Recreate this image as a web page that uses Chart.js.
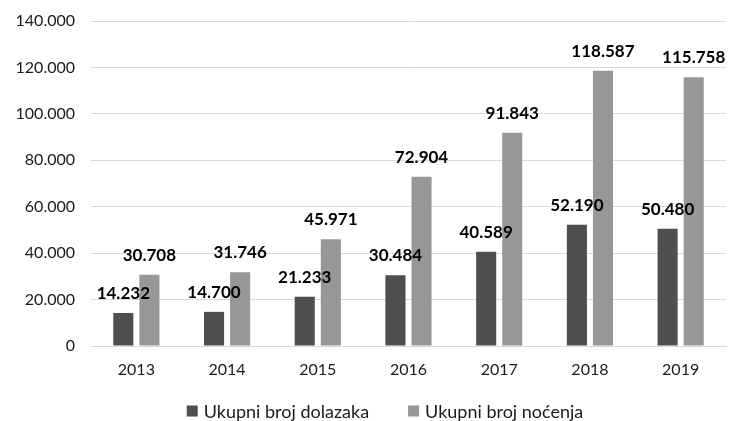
<!DOCTYPE html>
<html>
<head>
<meta charset="utf-8">
<script src="https://cdn.jsdelivr.net/npm/chart.js@4"></script>
<style>
  html, body { margin: 0; padding: 0; background: #fff; }
  #wrap { width: 734px; height: 421px; }
</style>
</head>
<body>
<div id="wrap"><canvas id="chart"></canvas></div>
<script>
const years = ['2013', '2014', '2015', '2016', '2017', '2018', '2019'];
const dolasci = [14232, 14700, 21233, 30484, 40589, 52190, 50480];
const nocenja = [30708, 31746, 45971, 72904, 91843, 118587, 115758];
const seriesNames = ['Ukupni broj dolazaka', 'Ukupni broj noćenja'];
const colors = ['#4f4f4f', '#979797'];

const fmt = v => v.toLocaleString('de-DE');
const fontFam = 'Lato, "Open Sans", sans-serif';

// labels above each bar, bold
const valueLabels = {
  id: 'valueLabels',
  afterDatasetsDraw(chart) {
    const ctx = chart.ctx;
    ctx.save();
    ctx.font = 'bold 17px ' + fontFam;
    ctx.fillStyle = '#000';
    ctx.textAlign = 'center';
    ctx.textBaseline = 'bottom';
    chart.data.datasets.forEach((ds, i) => {
      chart.getDatasetMeta(i).data.forEach((bar, j) => {
        ctx.fillText(fmt(ds.data[j]), bar.x, bar.y - 11);
      });
    });
    ctx.restore();
  }
};

// legend row at the bottom, spaced like the original
const bottomLegend = {
  id: 'bottomLegend',
  afterDraw(chart) {
    const ctx = chart.ctx;
    const box = 11, gapText = 6, gapItem = 39, y = 411, cx = 385;
    ctx.save();
    ctx.font = '18px ' + fontFam;
    ctx.textBaseline = 'middle';
    const widths = chart.data.datasets.map(ds => ctx.measureText(ds.label).width);
    let total = 0;
    widths.forEach((w, i) => { total += box + gapText + w + (i ? gapItem : 0); });
    let x = cx - total / 2;
    chart.data.datasets.forEach((ds, i) => {
      ctx.fillStyle = ds.backgroundColor;
      ctx.fillRect(x, y - box / 2, box, box);
      x += box + gapText;
      ctx.fillStyle = '#1a1a1a';
      ctx.fillText(ds.label, x, y + 1);
      x += widths[i] + gapItem;
    });
    ctx.restore();
  }
};

new Chart(document.getElementById('chart'), {
  type: 'bar',
  data: {
    labels: years,
    datasets: [
      { label: seriesNames[0], data: dolasci, backgroundColor: colors[0] },
      { label: seriesNames[1], data: nocenja, backgroundColor: colors[1] }
    ]
  },
  options: {
    responsive: true,
    maintainAspectRatio: false,
    animation: false,
    categoryPercentage: 0.575,
    barPercentage: 0.77,
    layout: { padding: { top: 21, right: 8, left: 0, bottom: 34 } },
    plugins: {
      tooltip: { enabled: false },
      legend: { display: false }
    },
    scales: {
      x: {
        afterFit: s => { s.height = 41; },
        grid: { display: false },
        border: { color: '#d9d9d9' },
        ticks: { color: '#1a1a1a', font: { family: fontFam, size: 16 }, padding: 6 }
      },
      y: {
        min: 0, max: 140000,
        afterFit: s => { s.width = 91; s.paddingTop = 0; s.paddingBottom = 0; },
        grid: { color: '#d9d9d9', drawTicks: false },
        border: { display: false },
        ticks: {
          stepSize: 20000, padding: 16,
          color: '#1a1a1a', font: { family: fontFam, size: 16 },
          callback: v => fmt(v)
        }
      }
    }
  },
  plugins: [valueLabels, bottomLegend]
});
</script>
</body>
</html>
